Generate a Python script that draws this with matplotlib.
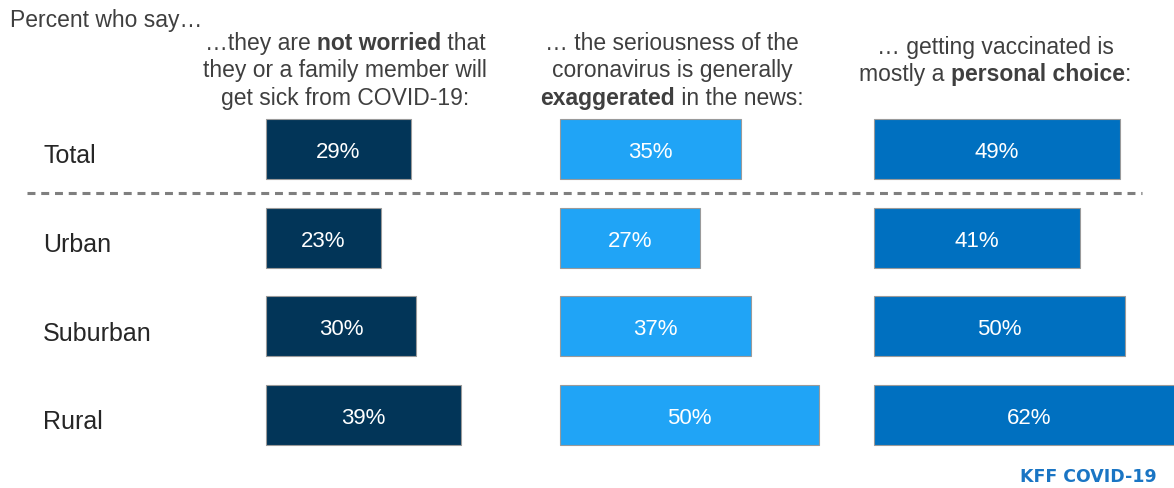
import matplotlib
matplotlib.use('Agg')
import matplotlib.pyplot as plt
import matplotlib.transforms as mtransforms
from matplotlib.lines import Line2D

# data
groups = ['Total', 'Urban', 'Suburban', 'Rural']
not_worried = [29, 23, 30, 39]
exaggerated = [35, 27, 37, 50]
personal_choice = [49, 41, 50, 62]

headers = [
    [[('…they are ', False), ('not worried', True), (' that', False)],
     [('they or a family member will', False)],
     [('get sick from COVID-19:', False)]],
    [[('… the seriousness of the', False)],
     [('coronavirus is generally', False)],
     [('exaggerated', True), (' in the news:', False)]],
    [[('… getting vaccinated is', False)],
     [('mostly a ', False), ('personal choice', True), (':', False)]],
]

colors = ['#023558', '#20a4f6', '#0070c0']
W, H = 1174, 489
FONT = 'Liberation Sans'

fig = plt.figure(figsize=(W / 100, H / 100), dpi=100)
renderer = fig.canvas.get_renderer()
pix = mtransforms.IdentityTransform()

# axes: left px, px per percent, xmax
panels = [(266, 5.0, 70), (560, 5.17, 60), (874, 5.02, 60)]
bottom = (H - 460.3) / H
height = 354.6 / H
axes = []
for (left, scale, xmax), vals, col in zip(panels, [not_worried, exaggerated, personal_choice], colors):
    ax = fig.add_axes([left / W, bottom, xmax * scale / W, height])
    ax.set_xlim(0, xmax)
    ax.set_ylim(len(groups) - 0.5, -0.5)
    ax.axis('off')
    ypos = range(len(groups))
    ax.barh(ypos, vals, height=0.68, color=col, edgecolor='#9a9a9a',
            linewidth=0.8, clip_on=False)
    off = mtransforms.offset_copy(ax.transData, fig=fig, y=-5.8, units='points')
    for y, v in zip(ypos, vals):
        ax.text(v / 2, y, f'{v}%', color='white', fontsize=16, family=FONT,
                ha='center', va='baseline', transform=off, clip_on=False)
    axes.append(ax)

# row labels
lab_tr = mtransforms.blended_transform_factory(fig.transFigure, axes[0].transData)
lab_off = mtransforms.offset_copy(lab_tr, fig=fig, y=-9.5, units='points')
for y, g in enumerate(groups):
    fig.text(43 / W, y, g, fontsize=18, family=FONT, color='#262626',
             ha='left', va='baseline', transform=lab_off)

# dashed separator between Total and the rest
sep = Line2D([27 / W, 1142 / W], [0.5, 0.5], transform=lab_tr, color='#7f7f7f',
             linewidth=2.2, dashes=(2.6, 1.9))
fig.add_artist(sep)


def seg_width(s, bold, size):
    t = fig.text(0, 0, '|' + s + '|', fontsize=size, family=FONT,
                 fontweight='bold' if bold else 'normal')
    t2 = fig.text(0, 0, '||', fontsize=size, family=FONT,
                  fontweight='bold' if bold else 'normal')
    w = t.get_window_extent(renderer).width - t2.get_window_extent(renderer).width
    t.remove()
    t2.remove()
    return w


def rich_line(xc, ybase, parts, size=16.5, color='#3f3f3f'):
    widths = [seg_width(s, b, size) for s, b in parts]
    x = xc - sum(widths) / 2
    for (s, b), w in zip(parts, widths):
        fig.text(x, H - ybase, s, fontsize=size, family=FONT, color=color,
                 fontweight='bold' if b else 'normal', ha='left', va='baseline',
                 transform=pix)
        x += w


fig.text(10, H - 27, 'Percent who say…', fontsize=16.5, family=FONT,
         color='#3f3f3f', ha='left', va='baseline', transform=pix)

centers = [345, 672, 995]
baselines = [[50, 77.5, 105], [50, 77.5, 105], [54, 81.5]]
for xc, lines, bl in zip(centers, headers, baselines):
    for parts, yb in zip(lines, bl):
        rich_line(xc, yb, parts)

fig.text(1157, H - 482, 'KFF COVID-19', fontsize=12.5, family='DejaVu Sans',
         fontweight='bold', color='#1a75c4', ha='right', va='baseline',
         transform=pix)

fig.savefig('out.png', dpi=100)
